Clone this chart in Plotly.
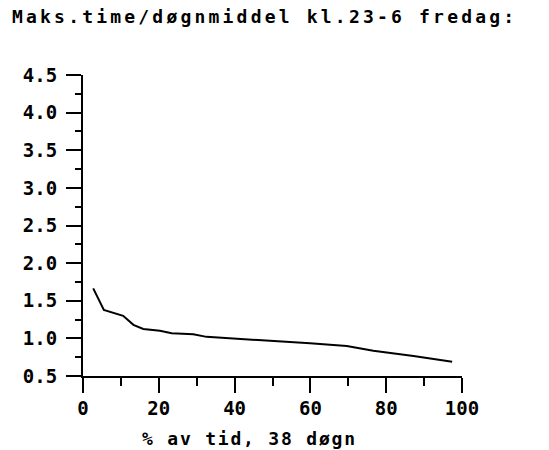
import plotly.graph_objects as go

# Data
pct_time = [2.7, 5.5, 10.6, 13.3, 15.9, 20.3, 23.4, 29.1, 32.6, 39.7, 51.1, 59.9, 69.6, 76.6, 87.2, 95.1, 97.4]
ratio = [1.665, 1.377, 1.30, 1.18, 1.125, 1.10, 1.067, 1.054, 1.02, 1.0, 0.965, 0.934, 0.899, 0.836, 0.766, 0.704, 0.69]

x_ticks = [0, 20, 40, 60, 80, 100]
x_minor = [10, 30, 50, 70, 90]
y_ticks = [0.5, 1.0, 1.5, 2.0, 2.5, 3.0, 3.5, 4.0, 4.5]

title_text = "Maks.time/døgnmiddel kl.23-6 fredag:"
x_title = "% av tid, 38 døgn"

FONT = "DejaVu Sans Mono"


def spaced(s, px):
    return f"<span style='letter-spacing:{px}px'><b>{s}</b></span>"


L, T, PW, PH = 83, 75, 379, 301
W, H = 549, 450

fig = go.Figure()
fig.add_trace(go.Scatter(
    x=pct_time, y=ratio, mode="lines",
    line=dict(color="black", width=2),
    showlegend=False, hoverinfo="skip",
))

fig.update_layout(
    width=W, height=H,
    margin=dict(l=L, r=W - L - PW, t=T, b=H - T - PH),
    paper_bgcolor="white", plot_bgcolor="white",
    font=dict(family=FONT, color="black"),
    title=dict(
        text=spaced(title_text, 3.2),
        font=dict(family=FONT, size=18, color="black"),
        xref="container", yref="container",
        x=12 / W, xanchor="left",
        y=1 - 17 / H, yanchor="middle",
        pad=dict(l=0, r=0, t=0, b=0),
    ),
    xaxis=dict(
        range=[0, 100],
        tickmode="array",
        tickvals=x_ticks,
        ticktext=[str(v) for v in x_ticks],
        ticks="outside", ticklen=15, tickwidth=2, tickcolor="black",
        minor=dict(tickmode="array", tickvals=x_minor, ticks="outside", ticklen=8,
                   tickwidth=2, tickcolor="black"),
        showline=True, linecolor="black", linewidth=2,
        showgrid=False, zeroline=False,
        tickfont=dict(family=FONT, size=19, color="black", weight="bold"),
        ticklabelstandoff=-1,
    ),
    yaxis=dict(
        range=[0.5, 4.5],
        tickmode="array",
        tickvals=y_ticks,
        ticktext=[f"{v:.1f}" for v in y_ticks],
        ticks="outside", ticklen=15, tickwidth=2, tickcolor="black",
        minor=dict(dtick=0.25, tick0=0.5, ticks="outside", ticklen=6, tickwidth=2, tickcolor="black"),
        showline=True, linecolor="black", linewidth=2,
        showgrid=False, zeroline=False,
        tickfont=dict(family=FONT, size=19, color="black", weight="bold"),
        ticklabelstandoff=5,
    ),
    annotations=[dict(
        text=spaced(x_title, 1.8),
        xref="paper", yref="paper",
        x=(249 - L) / PW, y=-(438 - (T + PH)) / PH,
        xanchor="center", yanchor="middle",
        showarrow=False,
        font=dict(family=FONT, size=18, color="black"),
    )],
)

# Remove the default 8px page margin so the figure fills the window exactly.
fig.write_html(
    "out.html",
    config={"displayModeBar": False, "staticPlot": True},
    post_script="document.body.style.margin='0';",
)
